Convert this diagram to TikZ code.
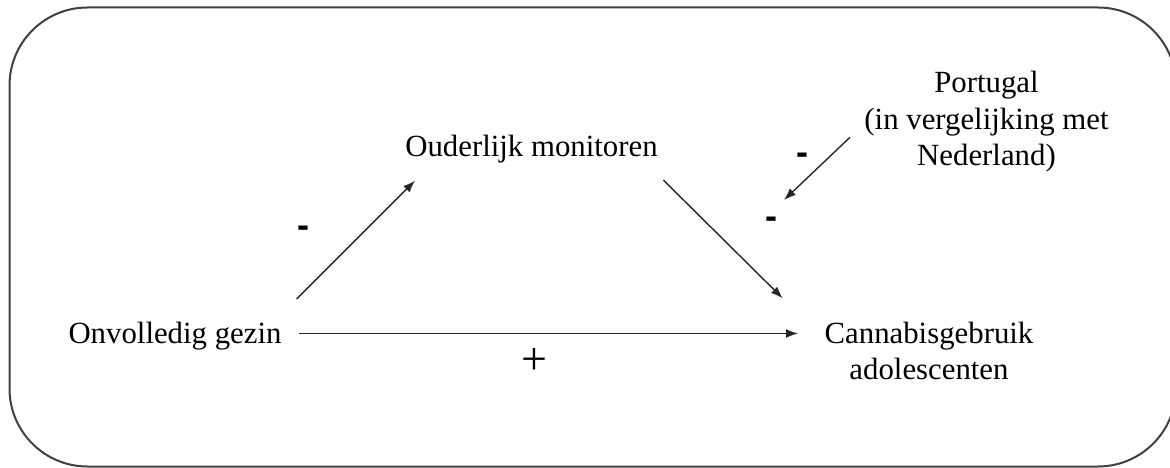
\documentclass[tikz,border=0pt]{standalone}
\usepackage{fontspec}
\setmainfont{Liberation Serif}
\newfontfamily\hyfont{Liberation Sans}
\usetikzlibrary{arrows.meta,calc}
\begin{document}
\begin{tikzpicture}[x=1pt,y=-1pt,
  lbl/.style={font=\fontsize{30.8}{36.5}\selectfont, inner sep=0pt, anchor=base},
  sgn/.style={font=\hyfont\bfseries\fontsize{36}{40}\selectfont, inner sep=0pt, anchor=base},
  plussign/.style={font=\fontsize{46}{50}\selectfont, inner sep=0pt, anchor=base},
  arr/.style={-{Latex[length=12pt,width=9pt]}, line width=1.4pt, draw=black!85},
  frame/.style={line width=2pt, draw=black!75, rounded corners=78pt}]
\useasboundingbox (0,0) rectangle (1170,468);
\draw[frame] (9.5,7.5) rectangle (1176,466.5);

\node[lbl] (gezin) at (175,343) {Onvolledig gezin};
\node[lbl] (ouder) at (531.5,157) {Ouderlijk monitoren};
\node[lbl] (cannabis) at (929,343) {\begin{tabular}[t]{@{}c@{}}Cannabisgebruik\\adolescenten\end{tabular}};
\node[lbl] (portugal) at (986.5,93) {\begin{tabular}[t]{@{}c@{}}Portugal\\(in vergelijking met\\Nederland)\end{tabular}};

\coordinate (modtip) at (784,200);

\draw[arr] ($(gezin.base)+(121.7,-44)$) -- ($(ouder.base)+(-116.5,23.7)$);
\draw[arr] ($(ouder.base)+(131.8,23)$) -- ($(cannabis.base)+(-146.3,-44.7)$);
\draw[arr] ($(gezin.base)+(124,-9.5)$) -- ($(cannabis.base)+(-131,-9.5)$);
\draw[arr] ($(portugal.base)+(-136.5,44.3)$) -- (modtip);

\node[sgn] (m1) at (303.3,237.5) {-};
\node[sgn] (m2) at (802.7,164.5) {-};
\node[sgn] (m3) at (771,228.8) {-};
\node[plussign] (p1) at (534,374.5) {+};
\end{tikzpicture}
\end{document}
